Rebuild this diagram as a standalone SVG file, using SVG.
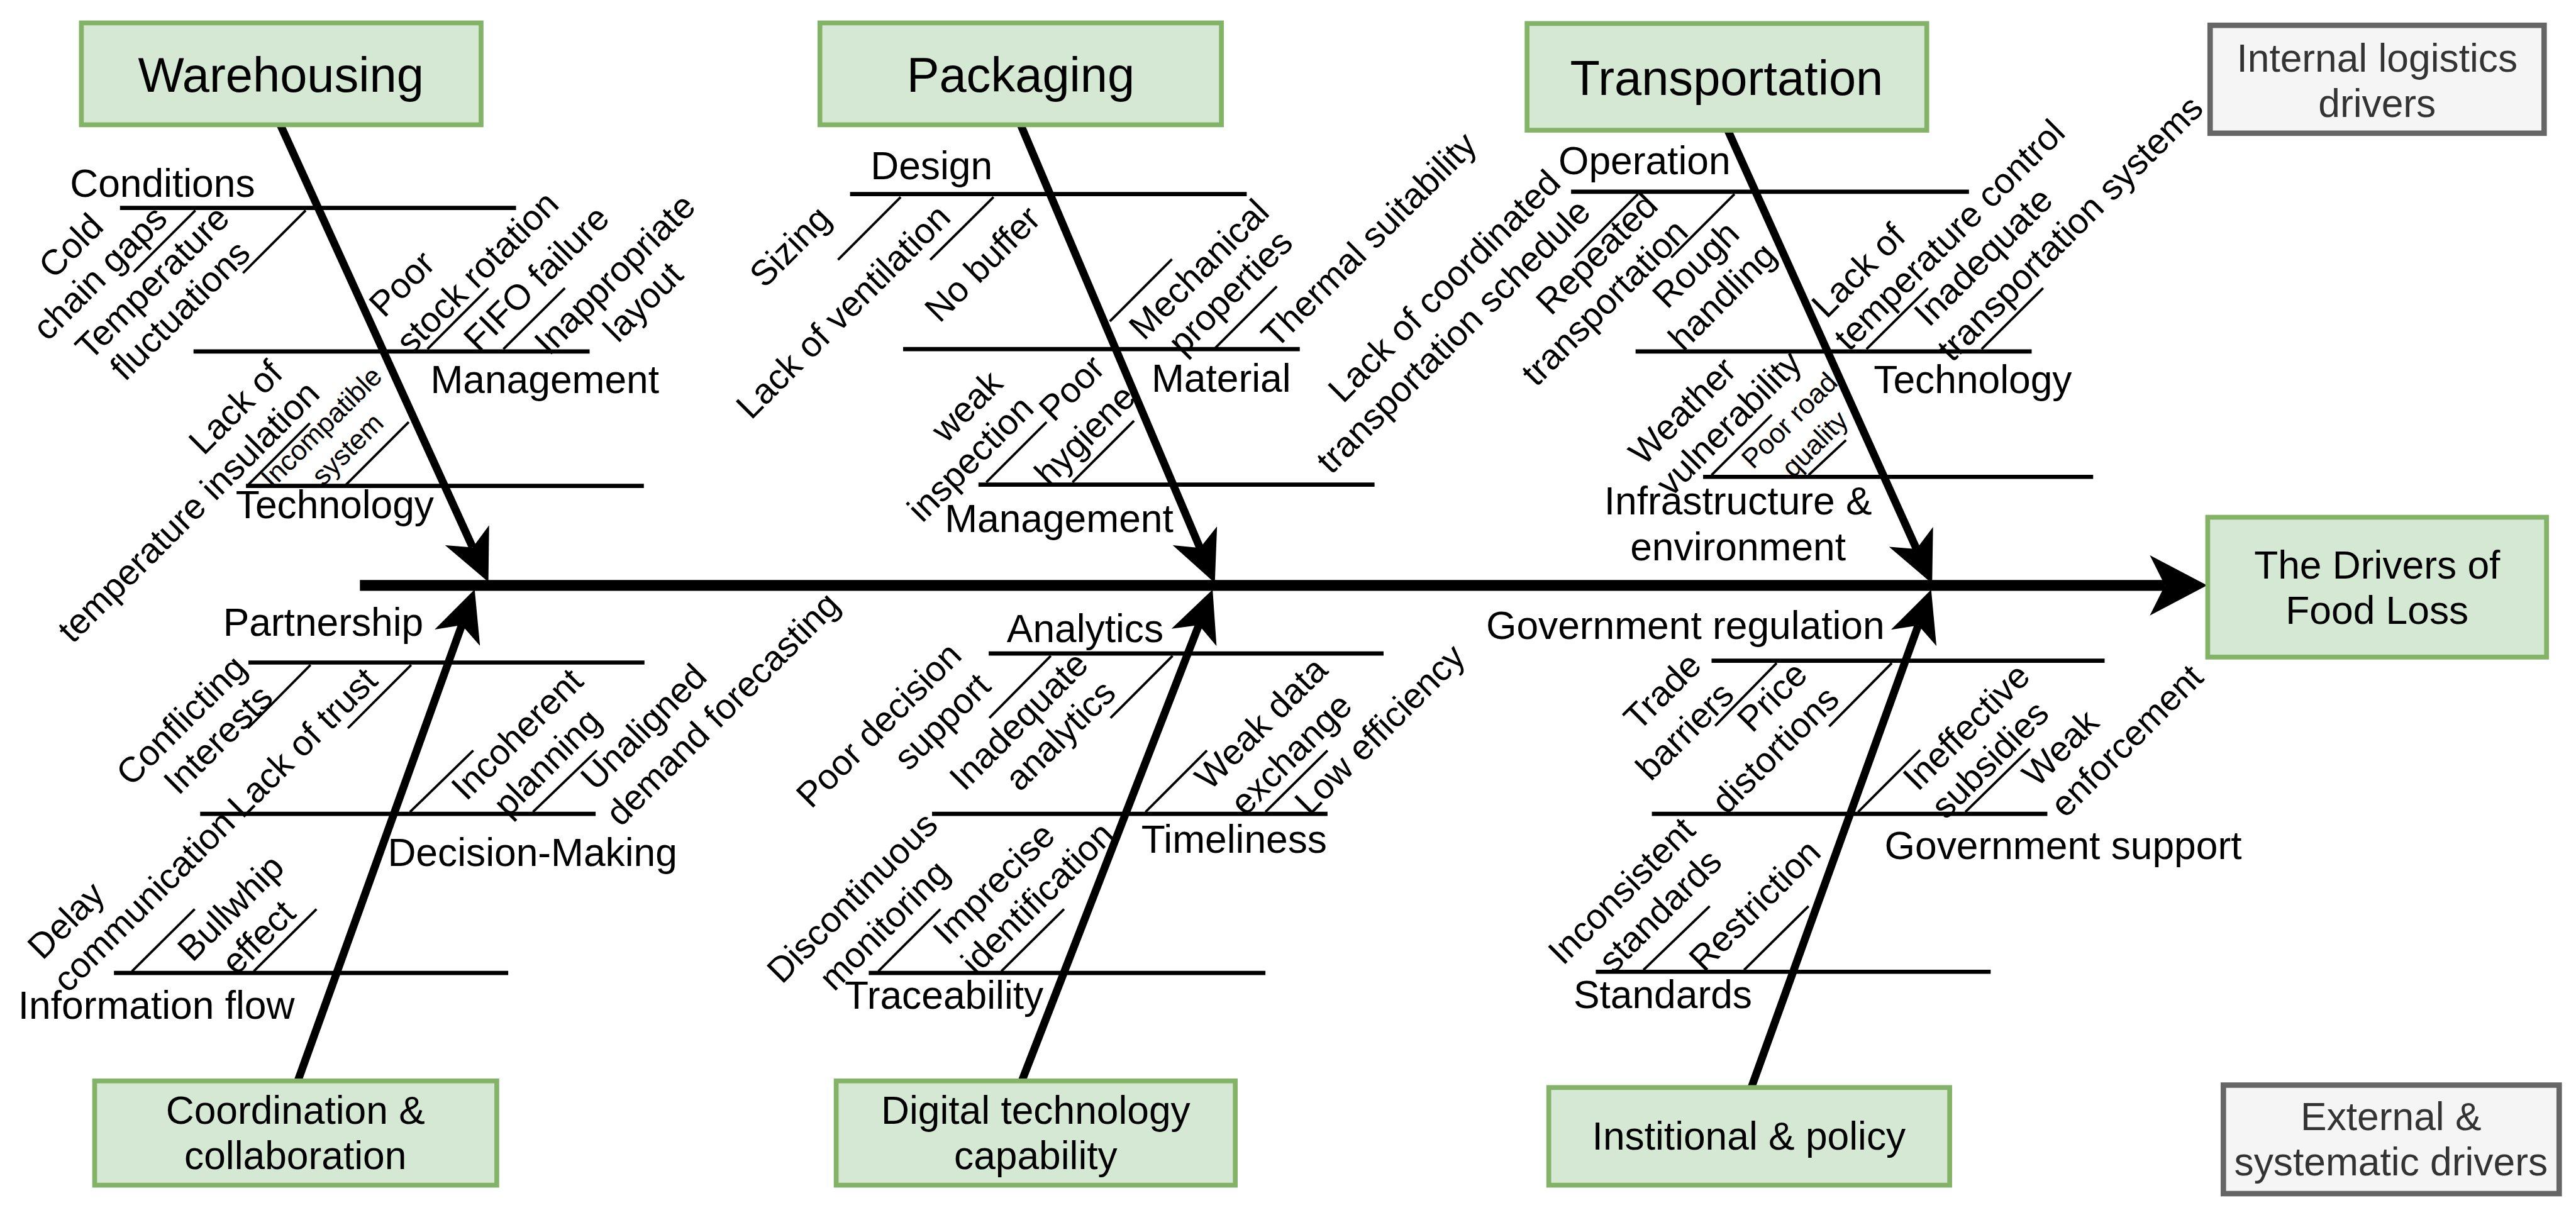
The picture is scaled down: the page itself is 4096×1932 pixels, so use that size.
<svg xmlns="http://www.w3.org/2000/svg" width="4096" height="1932" viewBox="0 0 4096 1932">
<style>
text{font-family:"Liberation Sans",Arial,Helvetica,sans-serif;fill:#000}
.box{fill:#d5e8d4;stroke:#82b366;stroke-width:8}
.gbox{fill:#f5f5f5;stroke:#666666;stroke-width:9}
.t{font-size:81px;text-anchor:middle}
.bt{font-size:65px;text-anchor:middle}
.gt{font-size:65px;text-anchor:middle;fill:#333333}
.l{font-size:65px}
.lc{font-size:65px;text-anchor:middle}
.s{font-size:59px;text-anchor:middle}
.xs{font-size:46px;text-anchor:middle}
.main{stroke:#000;stroke-width:18;fill:none}
.br{stroke:#000;stroke-width:13;fill:none}
.sb{stroke:#000;stroke-width:7}
.th{stroke:#000;stroke-width:4}
</style>
<defs>
<marker id="ah" viewBox="0 0 85 80" refX="22" refY="40" markerWidth="85" markerHeight="80" orient="auto" markerUnits="userSpaceOnUse"><path d="M0,0 L85,40 L0,80 L22,40 Z" fill="#000"/></marker>
<marker id="ahm" viewBox="0 0 95 100" refX="25" refY="50" markerWidth="95" markerHeight="100" orient="auto" markerUnits="userSpaceOnUse"><path d="M0,0 L95,50 L0,100 L25,50 Z" fill="#000"/></marker>
</defs>
<rect x="0" y="0" width="4096" height="1932" fill="#ffffff"/>
<g transform="scale(0.9586)">

<g id="connectors">
<line class="main" x1="597" y1="971" x2="3591" y2="971" marker-end="url(#ahm)"/>
<line class="br" x1="465" y1="207" x2="784" y2="908" marker-end="url(#ah)"/>
<line class="br" x1="1693" y1="207" x2="1990.5" y2="909" marker-end="url(#ah)"/>
<line class="br" x1="2866" y1="216" x2="3179" y2="910.6" marker-end="url(#ah)"/>
<line class="br" x1="494" y1="1793" x2="766" y2="1037" marker-end="url(#ah)"/>
<line class="br" x1="1695" y1="1793" x2="1988.6" y2="1036.8" marker-end="url(#ah)"/>
<line class="br" x1="2905" y1="1804" x2="3181.9" y2="1037.3" marker-end="url(#ah)"/>
</g>

<g id="node-warehousing">
<rect class="box" x="135" y="38" width="663" height="169"/>
<text class="t" x="466" y="152">Warehousing</text>
</g>
<g id="node-packaging">
<rect class="box" x="1360" y="38" width="666" height="169"/>
<text class="t" x="1693" y="152">Packaging</text>
</g>
<g id="node-transportation">
<rect class="box" x="2533" y="39" width="663" height="177"/>
<text class="t" x="2864" y="158">Transportation</text>
</g>
<g id="node-internal">
<rect class="gbox" x="3666" y="42" width="554" height="179"/>
<text class="gt" x="3943" y="119">Internal logistics</text>
<text class="gt" x="3943" y="194">drivers</text>
</g>
<g id="node-food-loss">
<rect class="box" x="3662" y="858" width="562" height="232"/>
<text class="bt" x="3943" y="960">The Drivers of</text>
<text class="bt" x="3943" y="1035">Food Loss</text>
</g>
<g id="node-external">
<rect class="gbox" x="3688" y="1800" width="557" height="180"/>
<text class="gt" x="3966" y="1875">External &amp;</text>
<text class="gt" x="3966" y="1950">systematic drivers</text>
</g>
<g id="node-coordination">
<rect class="box" x="157" y="1793" width="667" height="173"/>
<text class="bt" x="490" y="1864">Coordination &amp;</text>
<text class="bt" x="490" y="1939">collaboration</text>
</g>
<g id="node-digital">
<rect class="box" x="1387" y="1793" width="662" height="173"/>
<text class="bt" x="1718" y="1864">Digital technology</text>
<text class="bt" x="1718" y="1939">capability</text>
</g>
<g id="node-institutional">
<rect class="box" x="2569" y="1804" width="665" height="162"/>
<text class="bt" x="2901" y="1907">Institional &amp; policy</text>
</g>

<g id="warehousing-causes">
<line class="sb" x1="199" y1="345" x2="856" y2="345"/>
<line class="sb" x1="321" y1="583" x2="978" y2="583"/>
<line class="sb" x1="408" y1="806" x2="1068" y2="806"/>
<text class="l" x="116" y="326">Conditions</text>
<text class="l" x="714" y="652">Management</text>
<text class="l" x="391" y="860">Technology</text>
<line class="th" x1="324" y1="349" x2="222" y2="451"/>
<line class="th" x1="507" y1="349" x2="403" y2="453"/>
<line class="th" x1="709" y1="579" x2="810" y2="478"/>
<line class="th" x1="835" y1="579" x2="937" y2="478"/>
<line class="th" x1="412" y1="804" x2="514" y2="702"/>
<line class="th" x1="574" y1="804" x2="678" y2="700"/>
<text class="s" transform="translate(117 407) rotate(-45)" y="21">Cold</text>
<text class="s" transform="translate(165 452) rotate(-45)" y="21">chain gaps</text>
<text class="s" transform="translate(252 468) rotate(-45)" y="21">Temperature</text>
<text class="s" transform="translate(298 514) rotate(-45)" y="21">fluctuations</text>
<text class="s" transform="translate(666 470) rotate(-45)" y="21">Poor</text>
<text class="s" transform="translate(791 451) rotate(-45)" y="21">stock rotation</text>
<text class="s" transform="translate(889 461) rotate(-45)" y="21">FIFO failure</text>
<text class="s" transform="translate(1019 454) rotate(-45)" y="21">Inappropriate</text>
<text class="s" transform="translate(1066 500) rotate(-45)" y="21">layout</text>
<text class="s" transform="translate(390 675) rotate(-45)" y="21">Lack of</text>
<text class="s" transform="translate(312 848) rotate(-45)" y="21">temperature insulation</text>
<text class="xs" transform="translate(533 708) rotate(-45)" y="16">Incompatible</text>
<text class="xs" transform="translate(576 745) rotate(-45)" y="16">system</text>
</g>

<g id="packaging-causes">
<line class="sb" x1="1410" y1="322" x2="2068" y2="322"/>
<line class="sb" x1="1498" y1="579" x2="2156" y2="579"/>
<line class="sb" x1="1623" y1="804" x2="2280" y2="804"/>
<text class="l" x="1444" y="297">Design</text>
<text class="l" x="1910" y="650">Material</text>
<text class="l" x="1567" y="883">Management</text>
<line class="th" x1="1494" y1="327" x2="1390" y2="431"/>
<line class="th" x1="1648" y1="327" x2="1543" y2="431"/>
<line class="th" x1="1841" y1="533" x2="1944" y2="430"/>
<line class="th" x1="2016" y1="577" x2="2118" y2="475"/>
<line class="th" x1="1636" y1="800" x2="1736" y2="700"/>
<line class="th" x1="1779" y1="800" x2="1881" y2="698"/>
<text class="s" transform="translate(1310 408) rotate(-45)" y="21">Sizing</text>
<text class="s" transform="translate(1398 516) rotate(-45)" y="21">Lack of ventilation</text>
<text class="s" transform="translate(1629 437) rotate(-45)" y="21">No buffer</text>
<text class="s" transform="translate(1988 446) rotate(-45)" y="21">Mechanical</text>
<text class="s" transform="translate(2040 484) rotate(-45)" y="21">properties</text>
<text class="s" transform="translate(2270 397) rotate(-45)" y="21">Thermal suitability</text>
<text class="s" transform="translate(1603 673) rotate(-45)" y="21">weak</text>
<text class="s" transform="translate(1609 760) rotate(-45)" y="21">inspection</text>
<text class="s" transform="translate(1777 643) rotate(-45)" y="21">Poor</text>
<text class="s" transform="translate(1799 721) rotate(-45)" y="21">hygiene</text>
</g>

<g id="transportation-causes">
<line class="sb" x1="2606" y1="318" x2="3266" y2="318"/>
<line class="sb" x1="2713" y1="583" x2="3370" y2="583"/>
<line class="sb" x1="2825" y1="791" x2="3472" y2="791"/>
<text class="l" x="2585" y="289">Operation</text>
<text class="l" x="3108" y="652">Technology</text>
<text class="lc" x="2883" y="853">Infrastructure &amp;</text>
<text class="lc" x="2883" y="929">environment</text>
<line class="th" x1="2717" y1="322" x2="2612" y2="427"/>
<line class="th" x1="2877" y1="322" x2="2772" y2="427"/>
<line class="th" x1="3096" y1="579" x2="3198" y2="478"/>
<line class="th" x1="3287" y1="579" x2="3389" y2="478"/>
<line class="th" x1="2839" y1="788" x2="2939" y2="688"/>
<line class="th" x1="3000" y1="788" x2="3062" y2="730"/>
<text class="s" transform="translate(2395 474) rotate(-45)" y="21">Lack of coordinated</text>
<text class="s" transform="translate(2410 557) rotate(-45)" y="21">transportation schedule</text>
<text class="s" transform="translate(2648 420) rotate(-45)" y="21">Repeated</text>
<text class="s" transform="translate(2661 501) rotate(-45)" y="21">transportation</text>
<text class="s" transform="translate(2812 438) rotate(-45)" y="21">Rough</text>
<text class="s" transform="translate(2856 491) rotate(-45)" y="21">handling</text>
<text class="s" transform="translate(3082 448) rotate(-45)" y="21">Lack of</text>
<text class="s" transform="translate(3233 389) rotate(-45)" y="21">temperature control</text>
<text class="s" transform="translate(3289 425) rotate(-45)" y="21">Inadequate</text>
<text class="s" transform="translate(3433 378) rotate(-45)" y="21">transportation systems</text>
<text class="s" transform="translate(2790 681) rotate(-45)" y="21">Weather</text>
<text class="s" transform="translate(2867 701) rotate(-45)" y="21">vulnerability</text>
<text class="xs" transform="translate(2968 697) rotate(-45)" y="16">Poor road</text>
<text class="xs" transform="translate(3010 736) rotate(-45)" y="16">quality</text>
</g>

<g id="coordination-causes">
<line class="sb" x1="412" y1="1099" x2="1069" y2="1099"/>
<line class="sb" x1="332" y1="1350" x2="988" y2="1350"/>
<line class="sb" x1="189" y1="1614" x2="843" y2="1614"/>
<text class="l" x="370" y="1055">Partnership</text>
<text class="l" x="643" y="1436">Decision-Making</text>
<text class="l" x="30" y="1690">Information flow</text>
<line class="th" x1="515" y1="1103" x2="411" y2="1208"/>
<line class="th" x1="682" y1="1103" x2="577" y2="1208"/>
<line class="th" x1="680" y1="1347" x2="785" y2="1245"/>
<line class="th" x1="884" y1="1347" x2="990" y2="1245"/>
<line class="th" x1="219" y1="1611" x2="323" y2="1508"/>
<line class="th" x1="421" y1="1611" x2="525" y2="1508"/>
<text class="s" transform="translate(300 1194) rotate(-45)" y="21">Conflicting</text>
<text class="s" transform="translate(361 1226) rotate(-45)" y="21">Interests</text>
<text class="s" transform="translate(501 1231) rotate(-45)" y="21">Lack of trust</text>
<text class="s" transform="translate(857 1217) rotate(-45)" y="21">Incoherent</text>
<text class="s" transform="translate(907 1264) rotate(-45)" y="21">planning</text>
<text class="s" transform="translate(1067 1205) rotate(-45)" y="21">Unaligned</text>
<text class="s" transform="translate(1198 1175) rotate(-45)" y="21">demand forecasting</text>
<text class="s" transform="translate(109 1526) rotate(-45)" y="21">Delay</text>
<text class="s" transform="translate(238 1494) rotate(-45)" y="21">communication</text>
<text class="s" transform="translate(382 1505) rotate(-45)" y="21">Bullwhip</text>
<text class="s" transform="translate(428 1554) rotate(-45)" y="21">effect</text>
</g>

<g id="digital-causes">
<line class="sb" x1="1640" y1="1084" x2="2295" y2="1084"/>
<line class="sb" x1="1546" y1="1350" x2="2202" y2="1350"/>
<line class="sb" x1="1441" y1="1614" x2="2099" y2="1614"/>
<text class="l" x="1670" y="1065">Analytics</text>
<text class="l" x="1893" y="1415">Timeliness</text>
<text class="l" x="1401" y="1673">Traceability</text>
<line class="th" x1="1743" y1="1088" x2="1641" y2="1191"/>
<line class="th" x1="1945" y1="1088" x2="1842" y2="1191"/>
<line class="th" x1="1900" y1="1347" x2="2002" y2="1245"/>
<line class="th" x1="2099" y1="1347" x2="2202" y2="1245"/>
<line class="th" x1="1457" y1="1611" x2="1560" y2="1508"/>
<line class="th" x1="1661" y1="1611" x2="1765" y2="1508"/>
<text class="s" transform="translate(1457 1202) rotate(-45)" y="21">Poor decision</text>
<text class="s" transform="translate(1562 1196) rotate(-45)" y="21">support</text>
<text class="s" transform="translate(1689 1195) rotate(-45)" y="21">Inadequate</text>
<text class="s" transform="translate(1758 1219) rotate(-45)" y="21">analytics</text>
<text class="s" transform="translate(2091 1199) rotate(-45)" y="21">Weak data</text>
<text class="s" transform="translate(2141 1250) rotate(-45)" y="21">exchange</text>
<text class="s" transform="translate(2288 1209) rotate(-45)" y="21">Low efficiency</text>
<text class="s" transform="translate(1413 1488) rotate(-45)" y="21">Discontinuous</text>
<text class="s" transform="translate(1466 1534) rotate(-45)" y="21">monitoring</text>
<text class="s" transform="translate(1648 1465) rotate(-45)" y="21">Imprecise</text>
<text class="s" transform="translate(1720 1489) rotate(-45)" y="21">identification</text>
</g>

<g id="institutional-causes">
<line class="sb" x1="2839" y1="1096" x2="3491" y2="1096"/>
<line class="sb" x1="2740" y1="1350" x2="3396" y2="1350"/>
<line class="sb" x1="2647" y1="1612" x2="3302" y2="1612"/>
<text class="l" x="2465" y="1060">Government regulation</text>
<text class="l" x="3126" y="1425">Government support</text>
<text class="l" x="2610" y="1672">Standards</text>
<line class="th" x1="2947" y1="1100" x2="2845" y2="1204"/>
<line class="th" x1="3138" y1="1100" x2="3034" y2="1205"/>
<line class="th" x1="3082" y1="1347" x2="3185" y2="1244"/>
<line class="th" x1="3260" y1="1347" x2="3367" y2="1242"/>
<line class="th" x1="2726" y1="1609" x2="2836" y2="1503"/>
<line class="th" x1="2893" y1="1609" x2="3000" y2="1503"/>
<text class="s" transform="translate(2757 1146) rotate(-45)" y="21">Trade</text>
<text class="s" transform="translate(2794 1212) rotate(-45)" y="21">barriers</text>
<text class="s" transform="translate(2939 1155) rotate(-45)" y="21">Price</text>
<text class="s" transform="translate(2944 1243) rotate(-45)" y="21">distortions</text>
<text class="s" transform="translate(3261 1205) rotate(-45)" y="21">Ineffective</text>
<text class="s" transform="translate(3300 1259) rotate(-45)" y="21">subsidies</text>
<text class="s" transform="translate(3417 1240) rotate(-45)" y="21">Weak</text>
<text class="s" transform="translate(3527 1228) rotate(-45)" y="21">enforcement</text>
<text class="s" transform="translate(2689 1477) rotate(-45)" y="21">Inconsistent</text>
<text class="s" transform="translate(2753 1510) rotate(-45)" y="21">standards</text>
<text class="s" transform="translate(2910 1501) rotate(-45)" y="21">Restriction</text>
</g>

</g>
</svg>
